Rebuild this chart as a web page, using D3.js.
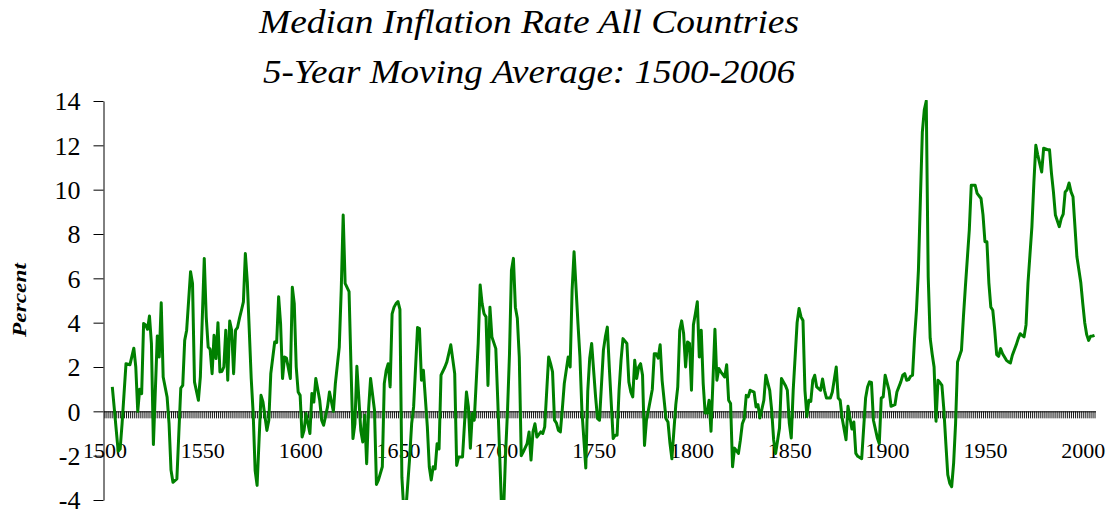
<!DOCTYPE html>
<html>
<head>
<meta charset="utf-8">
<script src="https://cdn.jsdelivr.net/npm/d3@7"></script>
<style>
  html, body { margin: 0; padding: 0; background: #fff; }
  svg { display: block; }
</style>
</head>
<body>
<svg id="chart" width="1109" height="513"></svg>
<script>
// ---- Data ----
const titleLines = ["Median Inflation Rate All Countries", "5-Year Moving Average: 1500-2006"];
const yAxisLabel = "Percent";
const yTicks = [-4, -2, 0, 2, 4, 6, 8, 10, 12, 14];
const xLabelYears = [1500, 1550, 1600, 1650, 1700, 1750, 1800, 1850, 1900, 1950, 2000];
const firstCategory = 1500;
const lastCategory = 2006;

const years = [
1504,1507,1508,1509,1511,1513,1515,1516,1517,1518,1519,1520,1521,1522,1523,1524,1525,1527,1528,1529,
1530,1532,1533,1534,1535,1537,1538,1539,1540,1541,1542,1544,1545,1546,1548,1549,1551,1552,1553,1554,
1555,1556,1557,1558,1559,1560,1561,1562,1563,1564,1565,1566,1567,1568,1569,1570,1571,1572,1573,1575,
1576,1577,1578,1580,1581,1583,1584,1585,1587,1588,1589,1590,1591,1592,1593,1595,1596,1597,1598,1599,
1600,1601,1602,1603,1605,1606,1607,1608,1610,1611,1612,1614,1615,1617,1618,1620,1621,1622,1623,1625,
1626,1627,1628,1629,1631,1632,1633,1634,1635,1636,1638,1639,1640,1642,1643,1644,1645,1646,1647,1648,
1649,1650,1651,1652,1653,1654,1656,1657,1658,1660,1661,1662,1663,1665,1666,1667,1668,1669,1670,1671,
1672,1674,1675,1677,1679,1680,1681,1683,1684,1685,1686,1687,1688,1689,1691,1692,1693,1694,1695,1696,
1697,1698,1700,1701,1702,1703,1704,1705,1706,1707,1708,1709,1710,1711,1712,1713,1714,1716,1717,1718,
1719,1720,1721,1723,1724,1725,1727,1728,1729,1730,1731,1732,1733,1734,1735,1737,1738,1739,1740,1742,
1743,1744,1746,1747,1748,1749,1750,1751,1752,1753,1755,1756,1757,1758,1760,1761,1762,1763,1764,1765,
1767,1768,1769,1770,1771,1772,1773,1774,1775,1776,1777,1778,1780,1781,1782,1783,1784,1785,1787,1788,
1789,1790,1791,1792,1793,1794,1795,1796,1797,1798,1799,1800,1801,1802,1803,1804,1805,1806,1807,1808,
1809,1810,1811,1812,1813,1814,1815,1817,1818,1819,1820,1821,1822,1824,1825,1826,1827,1828,1829,1830,
1832,1833,1834,1835,1837,1838,1840,1841,1842,1843,1845,1846,1848,1849,1850,1851,1852,1854,1855,1856,
1857,1858,1859,1860,1861,1862,1863,1864,1866,1867,1868,1869,1871,1872,1874,1875,1876,1877,1879,1880,
1881,1882,1883,1884,1885,1887,1889,1890,1891,1892,1893,1895,1896,1897,1898,1899,1901,1902,1904,1905,
1907,1908,1909,1910,1911,1912,1913,1914,1915,1916,1917,1918,1919,1920,1921,1922,1923,1924,1925,1926,
1927,1928,1929,1930,1931,1932,1933,1934,1935,1936,1938,1939,1940,1942,1943,1945,1946,1948,1949,1950,
1951,1952,1953,1954,1955,1956,1957,1958,1959,1961,1962,1963,1964,1966,1967,1968,1969,1970,1971,1972,
1974,1975,1976,1977,1979,1980,1982,1983,1984,1985,1986,1988,1989,1990,1991,1992,1993,1994,1995,1996,
1997,1999,2000,2001,2002,2003,2004,2005,2006
];

const inflation = [
1.1,-1.8,-1.7,-0.55,2.15,2.1,2.85,2.0,0.0,1.0,0.8,3.96,3.9,3.7,4.3,3.05,-1.5,3.4,2.45,4.9,
1.55,0.65,-0.55,-2.65,-3.2,-3.05,-1.0,1.05,1.17,3.2,3.66,6.3,5.77,1.33,0.5,1.55,6.9,4.26,2.9,2.8,
1.7,3.43,2.38,4.0,1.78,1.8,2.0,3.66,1.4,4.07,3.66,1.7,3.66,3.78,4.2,4.56,4.94,7.12,5.84,1.48,
-0.1,-2.67,-3.34,0.72,0.42,-0.86,-0.4,1.7,3.13,3.1,5.17,3.96,1.48,2.45,2.4,1.48,5.6,4.86,2.0,0.87,
0.72,-1.16,-0.86,-0.1,-1.0,0.8,0.42,1.48,0.5,-0.4,-0.63,0.2,0.87,0.0,1.25,2.9,5.47,8.86,5.77,5.4,
2.0,-1.23,-0.56,2.03,-0.86,-1.38,-0.18,-2.36,0.1,1.48,0.05,-3.3,-3.1,-2.5,1.25,1.85,2.15,1.1,4.4,4.7,
4.86,4.95,4.6,-2.97,-4.5,-4.5,-2.06,-0.55,0.2,3.78,3.73,1.4,1.85,-0.68,-2.5,-3.1,-2.5,-2.6,-1.46,-1.7,
1.63,2.0,2.23,3.0,1.7,-2.44,-2.06,-2.06,-0.56,0.87,0.2,-1.66,-0.1,-0.4,3.06,5.7,4.86,4.4,4.26,1.17,
4.7,3.36,2.83,0.5,-2.0,-4.5,-4.5,-1.9,0.05,2.6,6.37,6.9,4.7,4.2,2.45,-2.0,-1.84,-1.46,-0.93,-2.2,
-0.93,-0.56,-1.16,-0.93,-1.0,-0.7,2.45,2.15,1.78,-0.4,-0.53,-0.86,-0.93,0.1,1.25,2.45,2.0,5.47,7.2,3.96,
2.45,0.05,-2.56,0.9,2.4,3.06,1.85,0.65,-0.33,-0.4,2.76,3.36,3.8,2.0,-1.23,-1.08,-1.08,0.95,2.3,3.28,
3.06,1.33,0.87,0.65,2.3,1.48,2.0,2.15,1.63,-1.54,-0.4,0.05,1.0,2.6,2.6,2.4,3.0,1.4,-0.33,-0.48,
-1.43,-2.14,-0.9,0.3,1.1,3.66,4.08,3.5,2.0,3.13,3.06,0.95,3.9,4.4,4.94,2.45,3.66,1.25,-0.08,-0.08,
0.5,-0.9,1.4,3.7,1.4,1.93,1.78,1.55,2.1,0.5,0.35,-2.5,-1.66,-1.9,-1.3,-0.56,-0.33,0.72,0.65,0.95,
0.87,0.2,0.3,-0.3,0.5,1.63,0.95,0.05,-1.28,-1.9,-0.75,1.48,1.17,0.95,-0.53,-1.2,0.95,4.0,4.64,4.26,
4.1,0.95,-0.23,0.5,0.45,1.4,1.63,1.1,0.95,1.46,0.95,0.6,0.6,0.87,2.0,0.6,0.5,-0.3,-1.28,0.23,
-0.3,-0.8,-0.48,-1.9,-2.03,-2.14,0.6,1.1,1.33,1.3,-0.4,-1.2,-1.46,0.6,0.65,1.63,0.95,0.23,0.3,0.87,
1.33,1.63,1.7,1.4,1.43,1.58,1.63,3.28,4.56,6.37,9.56,12.6,13.6,14.0,6.07,3.3,2.6,2.0,-0.45,1.4,
1.3,1.17,0.08,-1.43,-2.86,-3.24,-3.4,-2.33,-0.53,2.23,2.76,4.26,5.62,8.18,10.2,10.2,9.83,9.6,8.86,7.65,
7.65,5.8,4.7,4.56,3.66,2.56,2.48,2.83,2.6,2.3,2.23,2.18,2.53,3.0,3.28,3.5,3.43,3.36,3.9,5.8,
8.33,10.3,12.0,11.56,10.8,11.87,11.8,11.8,10.74,9.9,8.86,8.33,8.7,8.9,9.9,10.0,10.3,9.9,9.68,8.33,
6.97,5.8,4.86,4.0,3.46,3.2,3.39,3.4,3.43
];

// ---- Layout ----
const svg = d3.select("#chart");
svg.append("rect").attr("width", 1109).attr("height", 513).attr("fill", "#fff");

const plotLeft = 103.5, plotRight = 1095.5, plotTop = 101, plotBottom = 500;

const x = d3.scaleLinear()
  .domain([firstCategory - 0.5, lastCategory + 0.5])
  .range([plotLeft, plotRight]);
const y = d3.scaleLinear().domain([-4, 14]).range([plotBottom, plotTop]);

const serif = "Liberation Serif, Times New Roman, serif";

// Title
svg.selectAll("text.title").data(titleLines).enter().append("text")
  .attr("class", "title")
  .attr("x", 529)
  .attr("y", (d, i) => 33 + i * 50)
  .attr("text-anchor", "middle")
  .style("font-family", serif)
  .style("font-style", "italic")
  .style("font-size", "34px")
  .attr("textLength", (d, i) => i === 0 ? 540 : 532)
  .attr("lengthAdjust", "spacingAndGlyphs")
  .attr("fill", "#000")
  .text(d => d);

// Y axis
const yAxis = d3.axisLeft(y)
  .tickValues(yTicks)
  .tickSize(10)
  .tickSizeOuter(0)
  .tickPadding(13)
  .tickFormat(d => String(d));
const gy = svg.append("g").attr("transform", `translate(${plotLeft},0)`).call(yAxis);
gy.attr("font-family", null).attr("font-size", null);
gy.select(".domain").attr("stroke", "#000").attr("stroke-width", 1);
gy.selectAll(".tick line").attr("stroke", "#000");
gy.selectAll(".tick text")
  .style("font-family", serif)
  .style("font-size", "26px")
  .attr("fill", "#000")
  .attr("dy", "0.34em");

// Y axis title
svg.append("text")
  .attr("transform", "translate(26,300) rotate(-90)")
  .attr("text-anchor", "middle")
  .style("font-family", serif)
  .style("font-style", "italic")
  .style("font-weight", "bold")
  .style("font-size", "19px")
  .attr("textLength", 74)
  .attr("lengthAdjust", "spacingAndGlyphs")
  .attr("fill", "#000")
  .text(yAxisLabel);

// X axis at zero with a tick per year
const allYears = d3.range(firstCategory, lastCategory + 1);
const xAxis = d3.axisBottom(x)
  .tickValues(allYears)
  .tickSize(7)
  .tickSizeOuter(0)
  .tickFormat("");
const gx = svg.append("g").attr("transform", `translate(0,${y(0)})`).call(xAxis);
gx.select(".domain").attr("stroke", "#000").attr("stroke-width", 1);
gx.selectAll(".tick line").attr("stroke", "#000").attr("stroke-width", 0.9);

// X labels
const xLab = d3.axisBottom(x)
  .tickValues(xLabelYears)
  .tickSize(0)
  .tickSizeOuter(0)
  .tickPadding(31)
  .tickFormat(d => String(d));
const gxl = svg.append("g").attr("transform", `translate(0,${y(0)})`).call(xLab);
gxl.attr("font-family", null).attr("font-size", null);
gxl.select(".domain").remove();
gxl.selectAll(".tick text")
  .style("font-family", serif)
  .style("font-size", "22px")
  .attr("fill", "#000");

// Clip for line
svg.append("clipPath").attr("id", "plotclip")
  .append("rect").attr("x", plotLeft).attr("y", plotTop - 1)
  .attr("width", plotRight - plotLeft + 2).attr("height", plotBottom - plotTop + 1);

const n = Math.min(years.length, inflation.length);
const pts = d3.range(n).map(i => [years[i], inflation[i]]);
const line = d3.line().x(d => x(d[0])).y(d => y(d[1]));
svg.append("path")
  .attr("clip-path", "url(#plotclip)")
  .attr("d", line(pts))
  .attr("fill", "none")
  .attr("stroke", "#008000")
  .attr("stroke-width", 3)
  .attr("stroke-linejoin", "round");
</script>
</body>
</html>
